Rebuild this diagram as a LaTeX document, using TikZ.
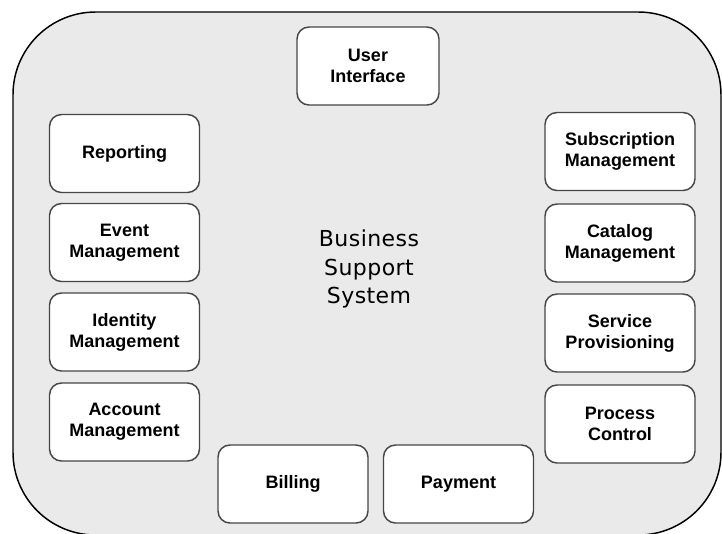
\documentclass[tikz,border=0pt]{standalone}
\usepackage{fontspec}
\setmainfont{Liberation Sans}
\newfontfamily\widefont[LetterSpace=2]{DejaVu Sans}
\definecolor{bssgray}{RGB}{234,234,234}
\definecolor{boxline}{RGB}{70,70,70}
\tikzset{
  module/.style={draw=boxline, fill=white, line width=1.1pt, rounded corners=9pt,
    minimum width=112.5pt, minimum height=58.5pt, inner sep=0.75pt, align=center,
    font=\fontsize{13.5}{15.8}\selectfont\bfseries},
}
\begin{document}
\begin{tikzpicture}[x=0.75pt,y=0.75pt,yscale=-1,xscale=1]
\useasboundingbox (0,0) rectangle (722,533);
\clip (0,0) rectangle (722,533);

%Shape: Outer system
\draw [fill=bssgray, line width=1.1pt, rounded corners=62pt] (13,12) rectangle (721,535);

% Modules
\node [module, minimum width=106.5pt] (ui) at (368,66) {User\\Interface};
\node [module] (rep) at (124.5,153.5) {Reporting};
\node [module] (event) at (124.5,242.5) {Event\\Management};
\node [module] (ident) at (124.5,332) {Identity\\Management};
\node [module] (acct) at (124.5,422) {Account\\Management};
\node [module] (sub) at (620,151.5) {Subscription\\Management};
\node [module] (cat) at (620,243) {Catalog\\Management};
\node [module] (serv) at (620,333) {Service\\Provisioning};
\node [module] (proc) at (620,424) {Process\\Control};
\node [module] (bill) at (293,484) {Billing};
\node [module] (pay) at (458.5,484) {Payment};

% Text Node
\node [align=center, font=\widefont\fontsize{16.5}{21.4}\selectfont] (bss) at (369,269) {Business\\Support\\System};

\end{tikzpicture}
\end{document}
